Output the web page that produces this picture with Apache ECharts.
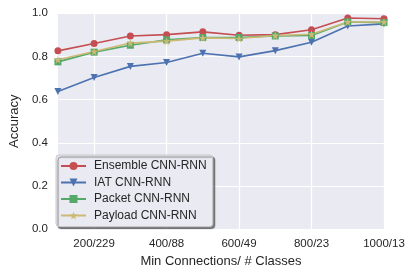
<!DOCTYPE html>
<html><head><meta charset="utf-8">
<script src="https://cdn.jsdelivr.net/npm/echarts@6/dist/echarts.min.js"></script>
<style>html,body{margin:0;padding:0;background:#fff}#c{width:413px;height:273px}</style>
</head><body><div id="c"></div>
<script>
var categories = ["100/", "200/229", "300/", "400/88", "500/", "600/49", "700/", "800/23", "900/", "1000/13"];
var shownLabels = ["", "200/229", "", "400/88", "", "600/49", "", "800/23", "", "1000/13"];
var ensemble = [0.826, 0.860, 0.895, 0.901, 0.914, 0.898, 0.901, 0.924, 0.978, 0.975];
var iat = [0.638, 0.703, 0.754, 0.772, 0.815, 0.798, 0.827, 0.866, 0.941, 0.951];
var packet = [0.775, 0.820, 0.852, 0.877, 0.888, 0.888, 0.895, 0.897, 0.960, 0.957];
var payload = [0.785, 0.823, 0.862, 0.871, 0.886, 0.883, 0.897, 0.903, 0.960, 0.960];
var yTicks = [0.0, 0.2, 0.4, 0.6, 0.8, 1.0];

var FONT = "'Liberation Sans', Arial, sans-serif";
var chart = echarts.init(document.getElementById('c'), null, {renderer: 'canvas'});
function s(name, data, color, symbol, size, rot) {
  return {name: name, type: 'line', data: data, symbol: symbol, symbolSize: size,
    symbolRotate: rot || 0, showAllSymbol: true,
    lineStyle: {color: color, width: 1.6}, itemStyle: {color: color}, z: 3};
}
chart.setOption({
  animation: false,
  backgroundColor: '#ffffff',
  textStyle: {fontFamily: FONT},
  grid: {left: 50, right: 29, top: 13.3, bottom: 43, backgroundColor: '#EAEAF2', show: true, borderWidth: 0},
  xAxis: {
    type: 'category', data: categories, boundaryGap: false,
    name: 'Min Connections/ # Classes', nameLocation: 'middle', nameGap: 22,
    nameTextStyle: {fontFamily: FONT, fontSize: 13, color: '#262626'},
    axisLine: {show: false}, axisTick: {show: false},
    axisLabel: {interval: 0, formatter: function (v, i) { return shownLabels[i]; }, color: '#262626', fontSize: 11.5, margin: 9, fontFamily: FONT},
    splitLine: {show: true, interval: function (i) { return i % 2 === 1; }, lineStyle: {color: '#ffffff', width: 1.2}}
  },
  yAxis: {
    type: 'value', min: yTicks[0], max: yTicks[yTicks.length - 1], interval: 0.2,
    name: 'Accuracy', nameLocation: 'middle', nameGap: 34,
    nameTextStyle: {fontFamily: FONT, fontSize: 13, color: '#262626'},
    axisLine: {show: false}, axisTick: {show: false},
    axisLabel: {formatter: function (v) { return v.toFixed(1); }, color: '#262626', fontSize: 11.5, margin: 10, fontFamily: FONT},
    splitLine: {show: true, lineStyle: {color: '#ffffff', width: 1.2}}
  },
  legend: {
    left: 56, top: 155, orient: 'vertical', itemGap: 4.5, itemWidth: 25, itemHeight: 10,
    padding: [5, 6, 5, 4],
    backgroundColor: '#EAEAF2', borderColor: '#c8c8c8', borderWidth: 1, borderRadius: 3,
    shadowColor: 'rgba(0,0,0,0.45)', shadowBlur: 1, shadowOffsetX: 2, shadowOffsetY: 2,
    textStyle: {fontFamily: FONT, fontSize: 12, color: '#262626', padding: [0, 0, 0, 3]},
    data: ['Ensemble CNN-RNN', 'IAT CNN-RNN', 'Packet CNN-RNN', 'Payload CNN-RNN']
  },
  series: [
    s('Ensemble CNN-RNN', ensemble, '#C44E52', 'circle', 7),
    s('IAT CNN-RNN', iat, '#4C72B0', 'triangle', 7, 180),
    s('Packet CNN-RNN', packet, '#55A868', 'rect', 7),
    s('Payload CNN-RNN', payload, '#CCB974', 'path://M50,0 L61,35 L98,35 L68,57 L79,91 L50,70 L21,91 L32,57 L2,35 L39,35 Z', 8)
  ]
});
</script></body></html>
